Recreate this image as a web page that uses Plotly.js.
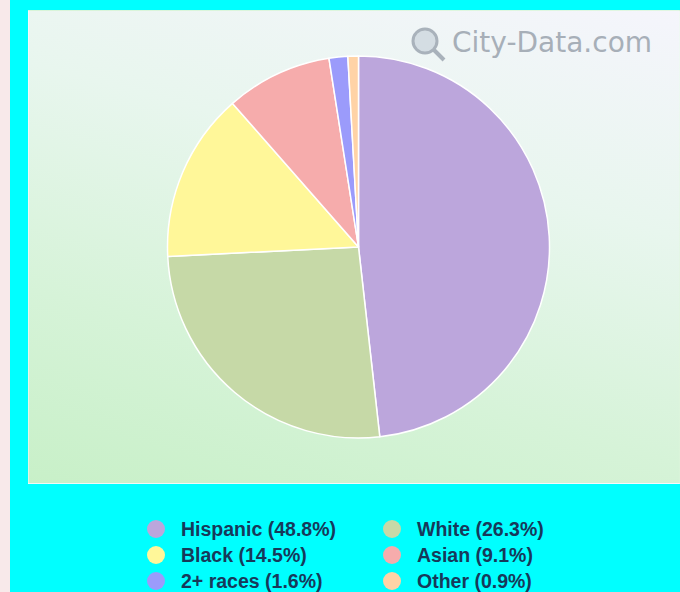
<!DOCTYPE html>
<html>
<head>
<meta charset="utf-8">
<script src="https://cdn.plot.ly/plotly-3.0.1.min.js"></script>
<style>
  html, body { margin: 0; padding: 0; width: 680px; height: 592px; overflow: hidden; background: #00ffff; }
  #strip { position: absolute; left: 0; top: 0; width: 10px; height: 592px; background: #f8e9ea; }
  #panel { position: absolute; left: 28px; top: 10px; width: 652px; height: 474px;
           background: linear-gradient(195deg, #f5f5fc 0%, #e8f6ee 35%, #d6f3d8 70%, #c8f0c8 100%);
           box-sizing: border-box; border: 1px solid rgba(255,255,255,0.3); }
  #chart { position: absolute; left: 0; top: 0; width: 680px; height: 592px; }
</style>
</head>
<body>
<div id="strip"></div>
<div id="panel"></div>
<div id="chart"></div>
<script>
// ---- data ----
const categories = ["Hispanic", "White", "Black", "Asian", "2+ races", "Other"];
const shares = [48.8, 26.3, 14.5, 9.1, 1.6, 0.9];
const sliceColors = ["#bca6dc", "#c6d9a7", "#fff799", "#f6acac", "#9b9bfb", "#ffd3a6"];
// legend layout order (two columns, row by row)
const legendOrder = ["Hispanic", "White", "Black", "Asian", "2+ races", "Other"];

const W = 680, H = 592;
const px = x => x / W;
const py = y => 1 - y / H;

// pie geometry (pixels)
const cx = 358.5, cy = 247, r = 191;

const trace = {
  type: "pie",
  labels: categories,
  values: shares,
  sort: false,
  direction: "clockwise",
  rotation: 0,
  textinfo: "none",
  hoverinfo: "label+percent",
  marker: { colors: sliceColors, line: { color: "#ffffff", width: 1.5 } },
  domain: { x: [px(cx - r), px(cx + r)], y: [py(cy + r), py(cy - r)] },
  showlegend: false
};

const annotations = [];
const shapes = [];

// legend
const colX = [156, 392];
const rowY = [529, 555, 581];
const mr = 9;
legendOrder.forEach((name, i) => {
  const k = categories.indexOf(name);
  const col = i % 2, row = Math.floor(i / 2);
  const mx = colX[col], my = rowY[row];
  shapes.push({
    type: "circle", xref: "paper", yref: "paper",
    x0: px(mx - mr), x1: px(mx + mr), y0: py(my + mr), y1: py(my - mr),
    fillcolor: sliceColors[k], line: { width: 0 }
  });
  annotations.push({
    xref: "paper", yref: "paper", x: px(mx + 23), y: py(my),
    xanchor: "left", yanchor: "middle", showarrow: false,
    text: name + " (" + shares[k].toFixed(1) + "%)",
    font: { family: "Liberation Sans, Arial, sans-serif", size: 19.5, color: "#17395a", weight: "bold" }
  });
});

// watermark
annotations.push({
  xref: "paper", yref: "paper", x: px(450), y: py(42),
  xanchor: "left", yanchor: "middle", showarrow: false,
  text: "City-Data.com",
  font: { family: "DejaVu Sans, sans-serif", size: 28, color: "#a7afb8" }
});
shapes.push({
  type: "circle", xref: "paper", yref: "paper",
  x0: px(413), x1: px(437), y0: py(53), y1: py(29),
  fillcolor: "rgba(190,200,212,0.55)", line: { color: "#a9b2bb", width: 3 }
});
shapes.push({
  type: "line", xref: "paper", yref: "paper",
  x0: px(434), x1: px(444), y0: py(50), y1: py(60),
  line: { color: "#a9b2bb", width: 4 }
});

const layout = {
  width: W, height: H,
  margin: { l: 0, r: 0, t: 0, b: 0 },
  paper_bgcolor: "rgba(0,0,0,0)",
  plot_bgcolor: "rgba(0,0,0,0)",
  showlegend: false,
  annotations: annotations,
  shapes: shapes
};

Plotly.newPlot("chart", [trace], layout, { displayModeBar: false, staticPlot: true });
</script>
</body>
</html>
